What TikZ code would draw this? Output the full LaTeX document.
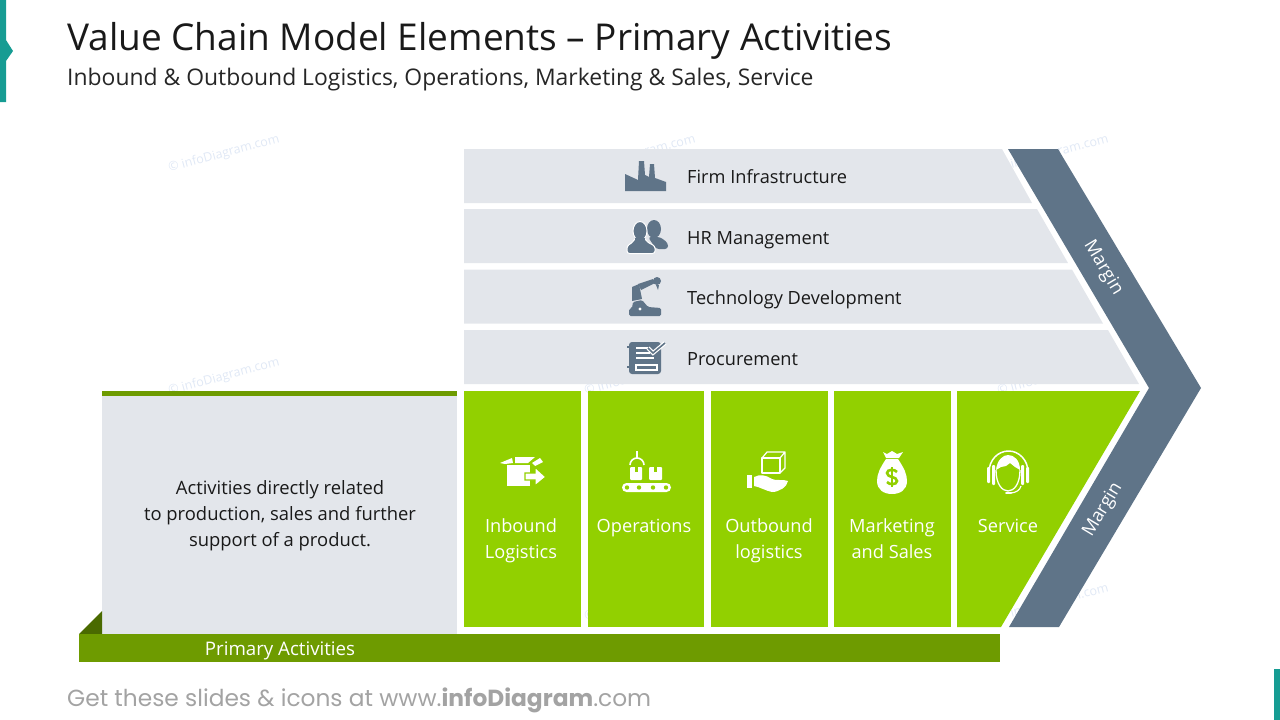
\documentclass[tikz,border=0pt]{standalone}
\usepackage{fontspec}
\setmainfont{Open Sans}
\newfontfamily\footfont{Poppins}
\usetikzlibrary{positioning}

\definecolor{panelgrey}{HTML}{E3E6EB}
\definecolor{slate}{HTML}{5F7488}
\definecolor{leafgreen}{HTML}{92D000}
\definecolor{olive}{HTML}{6E9B00}
\definecolor{darkolive}{HTML}{4A6A00}
\definecolor{teal}{HTML}{169C93}
\definecolor{markblue}{HTML}{E0E8F5}

\begin{document}
\begin{tikzpicture}[x=1pt, y=-1pt]

  \tikzstyle{rowlabel}=[anchor=base west, inner sep=0pt, font=\fontsize{18.2}{22}\selectfont, text=black!90]
  \tikzstyle{steplabel}=[anchor=north, inner sep=0pt, align=center, text=white, font=\fontsize{18.2}{26}\selectfont]
  \tikzstyle{marginlabel}=[inner sep=0pt, text=white, font=\fontsize{18.2}{22}\selectfont]
  \tikzstyle{watermark}=[inner sep=0pt, rotate=15, text=markblue, font=\fontsize{12.5}{14}\selectfont]
  \tikzstyle{darkicon}=[fill=slate, draw=none]
  \tikzstyle{lighticon}=[fill=white, draw=none]

  \path[use as bounding box] (0,0) rectangle (1280,720);

  % faint marks behind the shapes
  \foreach \mx/\my/\mname in {224/154/a, 640/154/b, 1053/154/c, 224/377/d, 640/377/e, 1053/377/f, 640/603/g, 1053/603/h}
    \node[watermark] (mark\mname) at (\mx,\my) {© infoDiagram.com};

  % corner strips
  \fill[teal] (0,0) -- (6,0) -- (6,40) -- (13,51) -- (6,61) -- (6,102) -- (0,102) -- cycle;
  \fill[teal] (1274,669) rectangle (1280,720);

  % support rows
  \fill[panelgrey] (464,149) -- (1002,149) -- (1032,203) -- (464,203) -- cycle;
  \fill[panelgrey] (464,209) -- (1037,209) -- (1068,263) -- (464,263) -- cycle;
  \fill[panelgrey] (464,269.5) -- (1072,269.5) -- (1103,323.5) -- (464,323.5) -- cycle;
  \fill[panelgrey] (464,330) -- (1108,330) -- (1139,384) -- (464,384) -- cycle;

  % margin chevron
  \fill[slate] (1008,149) -- (1058,149) -- (1201,388) -- (1059,627) -- (1009,627) -- (1149,388) -- cycle;

  % left panel and base bar
  \fill[panelgrey] (102,391) rectangle (457,634);
  \fill[olive] (102,391) rectangle (457,396);
  \fill[darkolive] (79,634) -- (102,611) -- (102,634) -- cycle;
  \fill[olive] (79,634) rectangle (1000,662);

  % primary activity boxes
  \fill[leafgreen] (464,391) rectangle (581,627);
  \fill[leafgreen] (587.5,391) rectangle (704,627);
  \fill[leafgreen] (710.5,391) rectangle (828,627);
  \fill[leafgreen] (834,391) rectangle (951,627);
  \fill[leafgreen] (957,391) -- (1140,391) -- (1001,627) -- (957,627) -- cycle;

  % headings
  \node[anchor=base west, inner sep=0pt, font=\fontsize{37}{44}\selectfont, text=black!90] (title) at (67,50) {Value Chain Model Elements – Primary Activities};
  \node[anchor=base west, inner sep=0pt, font=\fontsize{22.9}{28}\selectfont, text=black!85] (subtitle) at (67,85) {Inbound \& Outbound Logistics, Operations, Marketing \& Sales, Service};

  % row labels
  \node[rowlabel] (firm) at (687,183) {Firm Infrastructure};
  \node[rowlabel] (hr) at (687,244) {HR Management};
  \node[rowlabel] (tech) at (687,304) {Technology Development};
  \node[rowlabel] (proc) at (687,365) {Procurement};

  % activity labels
  \node[steplabel] (inbound) at (521,518.5) {Inbound\\Logistics};
  \node[steplabel] (operations) at (644,518.5) {Operations};
  \node[steplabel] (outbound) at (769,518.5) {Outbound\\logistics};
  \node[steplabel] (marketing) at (892,518.5) {Marketing\\and Sales};
  \node[steplabel] (service) at (1008,518.5) {Service};

  \node[inner sep=0pt, align=center, text=black!90, font=\fontsize{18.4}{26}\selectfont] (note) at (280,516) {Activities directly related\\to production, sales and further\\support of a product.};
  \node[inner sep=0pt, text=white, font=\fontsize{18.7}{22}\selectfont] (primary) at (280,651) {Primary Activities};

  \node[marginlabel, rotate=-59] (marginup) at (1103,268) {Margin};
  \node[marginlabel, rotate=59] (margindown) at (1103,510) {Margin};

  \node[anchor=base west, inner sep=0pt, text=black!36, font=\footfont\fontsize{23.3}{28}\selectfont] (footer) at (67,706) {Get these slides \& icons at www.\textbf{infoDiagram}.com};

  % factory
  \fill[darkicon] (625,191) -- (625,174) -- (638,180) -- (639,161) -- (644,161) -- (645,175) -- (649,177) -- (650,164) -- (654,164) -- (655,178) -- (666,182) -- (666,191) -- cycle;

  % people
  \fill[darkicon] (654,229) ellipse (7 and 9);
  \fill[darkicon, rounded corners=3] (648,237) -- (660,237) -- (668,243) -- (668,249) -- (656,249) -- cycle;
  \draw[white, line width=1, fill=slate, rounded corners=2.5] (635,238) -- (645,238) -- (647,242) -- (655,246) -- (655,253.5) -- (627,253.5) -- (627,246) -- (633,242) -- cycle;
  \draw[white, line width=1, fill=slate] (640,231) ellipse (7 and 9.5);
  \fill[darkicon] (635,238) rectangle (645,243);

  % robot arm
  \fill[darkicon, rounded corners=1.5] (629,316) -- (629,309) -- (632,308) -- (633,302) -- (642,300) -- (648,307) -- (661,308) -- (661,316) -- cycle;
  \fill[white] (640,309) circle (1.7);
  \fill[darkicon] (632,287) -- (639,284) -- (642,299) -- (632,301) -- cycle;
  \fill[darkicon] (638,284) -- (653,279) -- (655,283) -- (641,290) -- cycle;
  \fill[darkicon] (657,281) circle (4);
  \fill[darkicon] (656,285) -- (659,285) -- (658,290) -- cycle;

  % checklist
  \fill[darkicon, rounded corners=3] (629,342) rectangle (661,374);
  \draw[white, line width=1.2] (636,348) -- (648,348) (636,353) -- (650,353) (636,358) -- (654,358);
  \draw[white, line width=1.1] (636,365) rectangle (657,370);
  \draw[slate, line width=1.1] (627,347) -- (633,347) (627,367) -- (633,367);
  \draw[white, line width=4] (648,348) -- (653,353) -- (665,343);
  \draw[slate, line width=1.6] (648,348) -- (653,353) -- (665,343);

  % box with arrow
  \fill[lighticon] (507,465) rectangle (530,486);
  \fill[lighticon] (500,463) -- (512,458) -- (513,463) -- (505,464) -- cycle;
  \fill[lighticon] (515,457) -- (535,457) -- (528,463) -- (515,463) -- cycle;
  \fill[lighticon] (532,463) -- (540,458) -- (543,462) -- (535,466) -- cycle;
  \filldraw[fill=white, draw=leafgreen, line width=1.3] (525,473) -- (535,473) -- (535,467) -- (546,477) -- (535,486) -- (535,480) -- (525,480) -- cycle;

  % conveyor
  \fill[lighticon, rounded corners=4.5] (622,483) rectangle (671,492);
  \foreach \wx in {627,639,653,666}
    \fill[leafgreen] (\wx,487.5) circle (2.2);
  \fill[lighticon, rounded corners=1] (630,467) rectangle (642,480);
  \fill[lighticon, rounded corners=1] (649,467) rectangle (662,480);
  \fill[leafgreen] (634.5,467) rectangle (637.5,472);
  \fill[leafgreen] (654,467) rectangle (657,472);
  \draw[white, line width=1.6] (637,451) -- (637,458);
  \draw[white, line width=1.6] (630,465) arc (180:360:7);

  % box on a hand
  \draw[white, line width=1.2, line join=round] (762,458) rectangle (780,473);
  \draw[white, line width=1.2, line join=round] (762,458) -- (767,452) -- (785,452) -- (780,458) (785,452) -- (785,468) -- (780,473);
  \fill[lighticon] (747,475) rectangle (752,488);
  \fill[lighticon] (754,477) .. controls (760,474) and (766,475) .. (772,479) .. controls (776,481) and (783,479) .. (788,481) .. controls (787,487) and (779,492) .. (772,492) .. controls (766,491) and (760,487) .. (754,486) -- cycle;

  % money bag
  \fill[lighticon] (883,452) -- (887,454) -- (892,451) -- (897,454) -- (903,452) -- (899,458) -- (886,458) -- cycle;
  \fill[lighticon] (886,459) .. controls (880,468) and (877,474) .. (877,481) .. controls (877,490) and (884,494) .. (892,494) .. controls (900,494) and (907,490) .. (907,481) .. controls (907,474) and (904,468) .. (898,459) -- cycle;
  \draw[leafgreen, line width=2.6] (897,472) .. controls (895,469) and (887,469) .. (887,473) .. controls (887,478) and (897,476) .. (897,481) .. controls (897,485) and (889,485) .. (887,482);
  \draw[leafgreen, line width=2] (892,467) -- (892,487);

  % headset
  \draw[white, line width=1.5] (989,472) arc (180:360:19.5 and 21);
  \fill[lighticon, rounded corners=1] (987,467) rectangle (990,483);
  \fill[lighticon, rounded corners=1] (992,465) rectangle (995,485);
  \fill[lighticon, rounded corners=1] (1021,465) rectangle (1024,485);
  \fill[lighticon, rounded corners=1] (1026,467) rectangle (1029,483);
  \fill[lighticon] (996,470) .. controls (997,460) and (1003,455) .. (1008,455) .. controls (1014,455) and (1020,460) .. (1020,470) -- (1015,467) -- (1010,463) -- (1006,466) -- (1001,467) -- cycle;
  \draw[white, line width=1.3] (996,470) .. controls (996,484) and (1002,491) .. (1008,491) .. controls (1014,491) and (1020,484) .. (1020,470);
  \draw[white, line width=1.2] (1021,486) .. controls (1020,490) and (1016,493) .. (1010,493);
  \draw[white, line width=2, line cap=round] (1006,493) -- (1011,493);

\end{tikzpicture}
\end{document}
